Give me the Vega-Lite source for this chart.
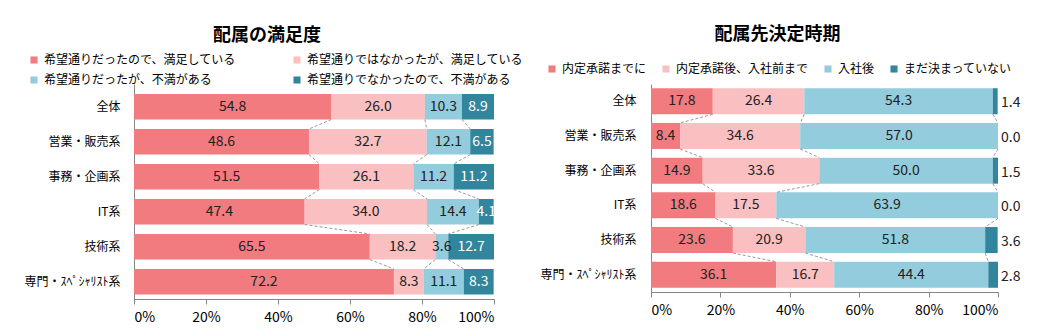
{
  "$schema": "https://vega.github.io/schema/vega-lite/v6.json",
  "padding": {"left": 23, "top": 26, "right": 0, "bottom": 0},
  "config": {
    "font": "Noto Sans CJK JP",
    "view": {"stroke": null},
    "title": {"fontSize": 18, "fontWeight": "bold", "color": "#000", "font": "Noto Sans CJK JP"}
  },
  "datasets": {
    "sat": [
      {"cat": "全体", "s": "希望通りだったので、満足している", "o": 1, "v": 54.8},
      {"cat": "全体", "s": "希望通りではなかったが、満足している", "o": 2, "v": 26.0},
      {"cat": "全体", "s": "希望通りだったが、不満がある", "o": 3, "v": 10.3},
      {"cat": "全体", "s": "希望通りでなかったので、不満がある", "o": 4, "v": 8.9},
      {"cat": "営業・販売系", "s": "希望通りだったので、満足している", "o": 1, "v": 48.6},
      {"cat": "営業・販売系", "s": "希望通りではなかったが、満足している", "o": 2, "v": 32.7},
      {"cat": "営業・販売系", "s": "希望通りだったが、不満がある", "o": 3, "v": 12.1},
      {"cat": "営業・販売系", "s": "希望通りでなかったので、不満がある", "o": 4, "v": 6.5},
      {"cat": "事務・企画系", "s": "希望通りだったので、満足している", "o": 1, "v": 51.5},
      {"cat": "事務・企画系", "s": "希望通りではなかったが、満足している", "o": 2, "v": 26.1},
      {"cat": "事務・企画系", "s": "希望通りだったが、不満がある", "o": 3, "v": 11.2},
      {"cat": "事務・企画系", "s": "希望通りでなかったので、不満がある", "o": 4, "v": 11.2},
      {"cat": "IT系", "s": "希望通りだったので、満足している", "o": 1, "v": 47.4},
      {"cat": "IT系", "s": "希望通りではなかったが、満足している", "o": 2, "v": 34.0},
      {"cat": "IT系", "s": "希望通りだったが、不満がある", "o": 3, "v": 14.4},
      {"cat": "IT系", "s": "希望通りでなかったので、不満がある", "o": 4, "v": 4.1},
      {"cat": "技術系", "s": "希望通りだったので、満足している", "o": 1, "v": 65.5},
      {"cat": "技術系", "s": "希望通りではなかったが、満足している", "o": 2, "v": 18.2},
      {"cat": "技術系", "s": "希望通りだったが、不満がある", "o": 3, "v": 3.6},
      {"cat": "技術系", "s": "希望通りでなかったので、不満がある", "o": 4, "v": 12.7},
      {"cat": "専門・ｽﾍﾟｼｬﾘｽﾄ系", "s": "希望通りだったので、満足している", "o": 1, "v": 72.2},
      {"cat": "専門・ｽﾍﾟｼｬﾘｽﾄ系", "s": "希望通りではなかったが、満足している", "o": 2, "v": 8.3},
      {"cat": "専門・ｽﾍﾟｼｬﾘｽﾄ系", "s": "希望通りだったが、不満がある", "o": 3, "v": 11.1},
      {"cat": "専門・ｽﾍﾟｼｬﾘｽﾄ系", "s": "希望通りでなかったので、不満がある", "o": 4, "v": 8.3}
    ],
    "satc": [
      {"cat": "全体", "next": "営業・販売系", "a": 54.8, "b": 48.6},
      {"cat": "全体", "next": "営業・販売系", "a": 80.8, "b": 81.3},
      {"cat": "全体", "next": "営業・販売系", "a": 91.1, "b": 93.4},
      {"cat": "営業・販売系", "next": "事務・企画系", "a": 48.6, "b": 51.5},
      {"cat": "営業・販売系", "next": "事務・企画系", "a": 81.3, "b": 77.6},
      {"cat": "営業・販売系", "next": "事務・企画系", "a": 93.4, "b": 88.8},
      {"cat": "事務・企画系", "next": "IT系", "a": 51.5, "b": 47.4},
      {"cat": "事務・企画系", "next": "IT系", "a": 77.6, "b": 81.4},
      {"cat": "事務・企画系", "next": "IT系", "a": 88.8, "b": 95.8},
      {"cat": "IT系", "next": "技術系", "a": 47.4, "b": 65.5},
      {"cat": "IT系", "next": "技術系", "a": 81.4, "b": 83.7},
      {"cat": "IT系", "next": "技術系", "a": 95.8, "b": 87.3},
      {"cat": "技術系", "next": "専門・ｽﾍﾟｼｬﾘｽﾄ系", "a": 65.5, "b": 72.2},
      {"cat": "技術系", "next": "専門・ｽﾍﾟｼｬﾘｽﾄ系", "a": 83.7, "b": 80.5},
      {"cat": "技術系", "next": "専門・ｽﾍﾟｼｬﾘｽﾄ系", "a": 87.3, "b": 91.6}
    ],
    "tim": [
      {"cat": "全体", "s": "内定承諾までに", "o": 1, "v": 17.8},
      {"cat": "全体", "s": "内定承諾後、入社前まで", "o": 2, "v": 26.4},
      {"cat": "全体", "s": "入社後", "o": 3, "v": 54.3},
      {"cat": "全体", "s": "まだ決まっていない", "o": 4, "v": 1.4},
      {"cat": "営業・販売系", "s": "内定承諾までに", "o": 1, "v": 8.4},
      {"cat": "営業・販売系", "s": "内定承諾後、入社前まで", "o": 2, "v": 34.6},
      {"cat": "営業・販売系", "s": "入社後", "o": 3, "v": 57.0},
      {"cat": "営業・販売系", "s": "まだ決まっていない", "o": 4, "v": 0.0},
      {"cat": "事務・企画系", "s": "内定承諾までに", "o": 1, "v": 14.9},
      {"cat": "事務・企画系", "s": "内定承諾後、入社前まで", "o": 2, "v": 33.6},
      {"cat": "事務・企画系", "s": "入社後", "o": 3, "v": 50.0},
      {"cat": "事務・企画系", "s": "まだ決まっていない", "o": 4, "v": 1.5},
      {"cat": "IT系", "s": "内定承諾までに", "o": 1, "v": 18.6},
      {"cat": "IT系", "s": "内定承諾後、入社前まで", "o": 2, "v": 17.5},
      {"cat": "IT系", "s": "入社後", "o": 3, "v": 63.9},
      {"cat": "IT系", "s": "まだ決まっていない", "o": 4, "v": 0.0},
      {"cat": "技術系", "s": "内定承諾までに", "o": 1, "v": 23.6},
      {"cat": "技術系", "s": "内定承諾後、入社前まで", "o": 2, "v": 20.9},
      {"cat": "技術系", "s": "入社後", "o": 3, "v": 51.8},
      {"cat": "技術系", "s": "まだ決まっていない", "o": 4, "v": 3.6},
      {"cat": "専門・ｽﾍﾟｼｬﾘｽﾄ系", "s": "内定承諾までに", "o": 1, "v": 36.1},
      {"cat": "専門・ｽﾍﾟｼｬﾘｽﾄ系", "s": "内定承諾後、入社前まで", "o": 2, "v": 16.7},
      {"cat": "専門・ｽﾍﾟｼｬﾘｽﾄ系", "s": "入社後", "o": 3, "v": 44.4},
      {"cat": "専門・ｽﾍﾟｼｬﾘｽﾄ系", "s": "まだ決まっていない", "o": 4, "v": 2.8}
    ],
    "timc": [
      {"cat": "全体", "next": "営業・販売系", "a": 17.8, "b": 8.4},
      {"cat": "全体", "next": "営業・販売系", "a": 44.2, "b": 43.0},
      {"cat": "全体", "next": "営業・販売系", "a": 98.5, "b": 100},
      {"cat": "営業・販売系", "next": "事務・企画系", "a": 8.4, "b": 14.9},
      {"cat": "営業・販売系", "next": "事務・企画系", "a": 43.0, "b": 48.5},
      {"cat": "営業・販売系", "next": "事務・企画系", "a": 100, "b": 98.5},
      {"cat": "事務・企画系", "next": "IT系", "a": 14.9, "b": 18.6},
      {"cat": "事務・企画系", "next": "IT系", "a": 48.5, "b": 36.1},
      {"cat": "事務・企画系", "next": "IT系", "a": 98.5, "b": 100},
      {"cat": "IT系", "next": "技術系", "a": 18.6, "b": 23.6},
      {"cat": "IT系", "next": "技術系", "a": 36.1, "b": 44.5},
      {"cat": "IT系", "next": "技術系", "a": 100, "b": 96.3},
      {"cat": "技術系", "next": "専門・ｽﾍﾟｼｬﾘｽﾄ系", "a": 23.6, "b": 36.1},
      {"cat": "技術系", "next": "専門・ｽﾍﾟｼｬﾘｽﾄ系", "a": 44.5, "b": 52.8},
      {"cat": "技術系", "next": "専門・ｽﾍﾟｼｬﾘｽﾄ系", "a": 96.3, "b": 97.2}
    ]
  },
  "bounds": "flush",
  "spacing": 157,
  "resolve": {"scale": {"color": "independent", "x": "independent", "y": "independent"}, "legend": {"color": "independent"}},
  "hconcat": [
    {
      "width": 360,
      "height": 215,
      "title": {"text": "配属の満足度", "offset": 9, "frame": "group", "anchor": "middle", "dx": -47},
      "layer": [
        {
          "data": {"name": "sat"},
          "mark": {"type": "bar"},
          "encoding": {
            "y": {"field": "cat", "type": "nominal", "title": null,
              "scale": {"domain": ["全体", "営業・販売系", "事務・企画系", "IT系", "技術系", "専門・ｽﾍﾟｼｬﾘｽﾄ系"], "paddingInner": 0.27, "paddingOuter": 0.207, "align": 0.69},
              "axis": {"ticks": false, "labelPadding": 14, "labelFontSize": 12, "labelColor": "#000", "domainColor": "#868686", "labelFont": "Noto Sans CJK JP"}},
            "x": {"field": "v", "type": "quantitative", "stack": "zero", "title": null,
              "scale": {"domain": [0, 100], "nice": false},
              "axis": {"values": [0, 20, 40, 60, 80, 100], "labelExpr": "datum.value + '%'", "grid": false, "tickSize": 5, "tickColor": "#868686", "domainColor": "#868686", "labelFontSize": 14, "labelColor": "#000", "labelPadding": 6, "labelFont": "Noto Sans CJK JP"}},
            "order": {"field": "o", "type": "quantitative"},
            "color": {"field": "s", "type": "nominal",
              "scale": {"domain": ["希望通りだったので、満足している", "希望通りではなかったが、満足している", "希望通りだったが、不満がある", "希望通りでなかったので、不満がある"], "range": ["#F27B80", "#F9BFC1", "#93CDDD", "#31859C"]},
              "legend": {"title": null, "orient": "none", "legendX": -106, "legendY": -30, "direction": "horizontal", "columns": 2, "columnPadding": 55, "rowPadding": 8, "symbolType": "square", "symbolSize": 50, "symbolStrokeWidth": 0, "labelFontSize": 12, "labelOffset": 4, "labelColor": "#000", "labelLimit": 400, "labelFont": "Noto Sans CJK JP"}}
          }
        },
        {
          "data": {"name": "sat"},
          "mark": {"type": "text", "fontSize": 14, "baseline": "middle"},
          "encoding": {
            "y": {"field": "cat", "type": "nominal", "scale": {"domain": ["全体", "営業・販売系", "事務・企画系", "IT系", "技術系", "専門・ｽﾍﾟｼｬﾘｽﾄ系"]}},
            "x": {"field": "v", "type": "quantitative", "stack": "zero", "bandPosition": 0.5},
            "detail": {"field": "s"},
            "order": {"field": "o", "type": "quantitative"},
            "text": {"field": "v", "type": "quantitative", "format": ".1f"},
            "color": {"condition": {"test": "datum.o === 4", "value": "#ffffff"}, "value": "#222222"}
          }
        },
        {
          "data": {"name": "satc"},
          "mark": {"type": "rule", "strokeDash": [3, 2], "color": "#7f7f7f", "strokeWidth": 0.8},
          "encoding": {
            "y": {"field": "cat", "type": "nominal", "bandPosition": 1},
            "y2": {"field": "next", "bandPosition": 0},
            "x": {"field": "a", "type": "quantitative"},
            "x2": {"field": "b"}
          }
        }
      ]
    },
    {
      "width": 347,
      "height": 208,
      "title": {"text": "配属先決定時期", "offset": 19, "frame": "group", "anchor": "middle", "dx": -47},
      "layer": [
        {
          "data": {"name": "tim"},
          "mark": {"type": "bar"},
          "encoding": {
            "y": {"field": "cat", "type": "nominal", "title": null,
              "scale": {"domain": ["全体", "営業・販売系", "事務・企画系", "IT系", "技術系", "専門・ｽﾍﾟｼｬﾘｽﾄ系"], "paddingInner": 0.25, "paddingOuter": 0.122, "align": 0.5},
              "axis": {"ticks": false, "labelPadding": 15, "labelFontSize": 12, "labelColor": "#000", "domainColor": "#868686", "labelFont": "Noto Sans CJK JP"}},
            "x": {"field": "v", "type": "quantitative", "stack": "zero", "title": null,
              "scale": {"domain": [0, 100], "nice": false},
              "axis": {"values": [0, 20, 40, 60, 80, 100], "labelExpr": "datum.value + '%'", "grid": false, "tickSize": 5, "tickColor": "#868686", "domainColor": "#868686", "labelFontSize": 14, "labelColor": "#000", "labelPadding": 6, "labelFont": "Noto Sans CJK JP"}},
            "order": {"field": "o", "type": "quantitative"},
            "color": {"field": "s", "type": "nominal",
              "scale": {"domain": ["内定承諾までに", "内定承諾後、入社前まで", "入社後", "まだ決まっていない"], "range": ["#F27B80", "#F9BFC1", "#93CDDD", "#31859C"]},
              "legend": {"title": null, "orient": "none", "legendX": -105, "legendY": -21, "direction": "horizontal", "columns": 4, "columnPadding": 13, "symbolType": "square", "symbolSize": 50, "symbolStrokeWidth": 0, "labelFontSize": 12, "labelOffset": 4, "labelColor": "#000", "labelLimit": 400, "labelFont": "Noto Sans CJK JP"}}
          }
        },
        {
          "data": {"name": "tim"},
          "transform": [{"filter": "datum.o < 4"}],
          "mark": {"type": "text", "fontSize": 14, "baseline": "middle", "color": "#222222"},
          "encoding": {
            "y": {"field": "cat", "type": "nominal", "scale": {"domain": ["全体", "営業・販売系", "事務・企画系", "IT系", "技術系", "専門・ｽﾍﾟｼｬﾘｽﾄ系"]}},
            "x": {"field": "v", "type": "quantitative", "stack": "zero", "bandPosition": 0.5},
            "detail": {"field": "s"},
            "order": {"field": "o", "type": "quantitative"},
            "text": {"field": "v", "type": "quantitative", "format": ".1f"}
          }
        },
        {
          "data": {"name": "tim"},
          "transform": [{"filter": "datum.o === 4"}],
          "mark": {"type": "text", "fontSize": 14, "baseline": "middle", "align": "left", "dx": 3, "dy": 2, "color": "#222222"},
          "encoding": {
            "y": {"field": "cat", "type": "nominal", "scale": {"domain": ["全体", "営業・販売系", "事務・企画系", "IT系", "技術系", "専門・ｽﾍﾟｼｬﾘｽﾄ系"]}},
            "x": {"datum": 100, "type": "quantitative"},
            "text": {"field": "v", "type": "quantitative", "format": ".1f"}
          }
        },
        {
          "data": {"name": "timc"},
          "mark": {"type": "rule", "strokeDash": [3, 2], "color": "#7f7f7f", "strokeWidth": 0.8},
          "encoding": {
            "y": {"field": "cat", "type": "nominal", "bandPosition": 1},
            "y2": {"field": "next", "bandPosition": 0},
            "x": {"field": "a", "type": "quantitative"},
            "x2": {"field": "b"}
          }
        }
      ]
    }
  ]
}
